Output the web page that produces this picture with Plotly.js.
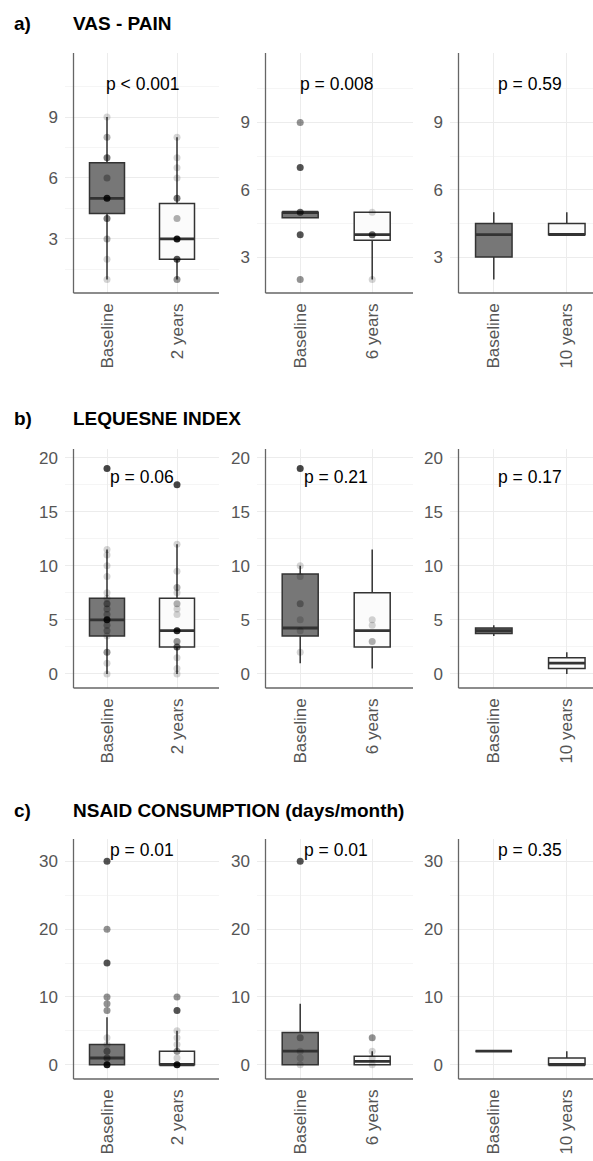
<!DOCTYPE html>
<html><head><meta charset="utf-8">
<script src="https://cdn.plot.ly/plotly-3.0.1.min.js"></script>
<style>html,body{margin:0;padding:0;background:#fff;}#chart{width:593px;height:1161px;}</style>
</head><body><div id="chart"></div>
<script>
// ---------------- DATA ----------------
const rowLetters = ['a)', 'b)', 'c)'];
const rowTitles = ['VAS - PAIN', 'LEQUESNE INDEX', 'NSAID CONSUMPTION (days/month)'];
const baselineLabel = 'Baseline';
const followUpLabels = ['2 years', '6 years', '10 years'];
const pValues = [
  ['p < 0.001', 'p = 0.008', 'p = 0.59'],
  ['p = 0.06', 'p = 0.21', 'p = 0.17'],
  ['p = 0.01', 'p = 0.01', 'p = 0.35']
];

// box statistics per panel: [lowerfence, q1, median, q3, upperfence]
const vasBaselineBox = [[1, 4.25, 5, 6.75, 9], [4.75, 4.75, 5, 5, 5], [2, 3, 4, 4.5, 5]];
const vasFollowBox   = [[1, 2, 3, 4.75, 8], [2, 3.75, 4, 5, 5], [4, 4, 4, 4.5, 5]];
const lqBaselineBox  = [[0, 3.5, 5, 7, 11.5], [1, 3.5, 4.25, 9.25, 10], [3.5, 3.75, 4, 4.25, 4.5]];
const lqFollowBox    = [[0, 2.5, 4, 7, 12], [0.5, 2.5, 4, 7.5, 11.5], [0, 0.5, 1, 1.5, 2]];
const nsBaselineBox  = [[0, 0, 1, 3, 7], [0, 0, 2, 4.75, 9], [2, 2, 2, 2, 2]];
const nsFollowBox    = [[0, 0, 0, 2, 5], [0, 0, 0.5, 1.25, 2], [0, 0, 0, 1, 2]];

// observed values (distinct) and number of patients at each value
const vasBaselineVals = [[1, 2, 3, 4, 5, 6, 7, 8, 9], [2, 4, 5, 7, 9], []];
const vasBaselineN    = [[1, 1, 2, 4, 10, 2, 4, 2, 1], [3, 6, 5, 6, 3], []];
const vasFollowVals   = [[1, 2, 3, 4, 5, 6, 6.5, 7, 8], [2, 4, 5], []];
const vasFollowN      = [[3, 6, 12, 2, 4, 1, 1, 1, 1], [1, 5, 1], []];

const lqBaselineVals = [[0, 1, 2, 3.5, 4, 4.5, 5, 5.5, 6, 6.5, 7, 7.5, 9, 10, 11, 11.5, 19], [2, 4, 5, 6.5, 9, 10, 19], []];
const lqBaselineN    = [[1, 1, 3, 1, 2, 2, 10, 2, 2, 3, 1, 1, 1, 1, 1, 1, 7], [1, 1, 1, 2, 1, 1, 7], []];
const lqFollowVals   = [[0, 0.5, 1.5, 2.5, 3, 4, 5.5, 6, 6.5, 7.5, 8, 9.5, 12, 17.5], [3, 4.5, 5], []];
const lqFollowN      = [[1, 1, 1, 5, 3, 10, 1, 1, 2, 1, 2, 1, 1, 7], [2, 1, 1], []];

const nsBaselineVals = [[0, 1, 2, 3, 4, 8, 9, 10, 15, 20, 30], [0, 1, 2, 4, 30], []];
const nsBaselineN    = [[12, 3, 3, 1, 1, 3, 3, 3, 6, 3, 6], [1, 1, 1, 2, 6], []];
const nsFollowVals   = [[0, 1, 2, 3, 4, 5, 8, 10], [0, 1, 2, 4], []];
const nsFollowN      = [[12, 1, 3, 1, 1, 1, 6, 3], [1, 1, 1, 3], []];

// y tick labels per row
const rowTicks = [[3, 6, 9], [0, 5, 10, 15, 20], [0, 10, 20, 30]];
const rowMinorTicks = [
  [[1.5, 4.5, 7.5, 10.5], [4.5, 7.5, 10.5], [4.5, 7.5, 10.5]],
  [[2.5, 7.5, 12.5, 17.5], [2.5, 7.5, 12.5, 17.5], [2.5, 7.5, 12.5, 17.5]],
  [[5, 15, 25], [5, 15, 25], [5, 15, 25]]
];

// ---------------- LAYOUT / STYLE ----------------
const W = 593, H = 1161;
const FONT = 'Liberation Sans, Arial, Helvetica, sans-serif';
const rowsPx = [[53, 293], [449, 688], [839, 1079]];
const colsPx = [[65, 219], [257, 413], [450, 593]];
const colUnitPx = [70, 72, 73];
const axisOffsetPx = 8.5;
const yRanges = [
  [[0.34, 12.15], [1.4, 12.1], [1.4, 12.1]],
  [[-1.3, 20.8], [-1.3, 20.8], [-1.3, 20.8]],
  [[-2.1, 33.3], [-2.1, 33.3], [-2.1, 33.3]]
];
const titleCenterY = [23.5, 418.5, 810];
const pLabelFrac = [0.872, 0.883, 0.954];
const BASE_FILL = '#777777', FOLLOW_FILL = '#fbfbfb', LINE = '#333333';
const POINT_ALPHA = 0.17;
const BOX_HALF = 0.25;

const boxes = [[vasBaselineBox, vasFollowBox], [lqBaselineBox, lqFollowBox], [nsBaselineBox, nsFollowBox]];
const pts = [
  [[vasBaselineVals, vasBaselineN], [vasFollowVals, vasFollowN]],
  [[lqBaselineVals, lqBaselineN], [lqFollowVals, lqFollowN]],
  [[nsBaselineVals, nsBaselineN], [nsFollowVals, nsFollowN]]
];

const traces = [];
const layout = {
  width: W, height: H, margin: {l: 0, r: 0, t: 0, b: 0},
  paper_bgcolor: '#ffffff', plot_bgcolor: 'rgba(0,0,0,0)',
  showlegend: false, hovermode: false,
  font: {family: FONT, color: '#000'},
  annotations: [], shapes: []
};

for (let r = 0; r < 3; r++) {
  layout.annotations.push({xref: 'paper', yref: 'paper', x: 12 / W, y: 1 - titleCenterY[r] / H,
    xanchor: 'left', yanchor: 'middle', showarrow: false, text: '<b>' + rowLetters[r] + '</b>',
    font: {family: FONT, size: 19, color: '#000'}});
  layout.annotations.push({xref: 'paper', yref: 'paper', x: 71 / W, y: 1 - titleCenterY[r] / H,
    xanchor: 'left', yanchor: 'middle', showarrow: false, text: '<b>' + rowTitles[r] + '</b>',
    font: {family: FONT, size: 19, color: '#000'}});
  for (let c = 0; c < 3; c++) {
    const k = r * 3 + c + 1;
    const xn = 'x' + (k > 1 ? k : ''), yn = 'y' + (k > 1 ? k : '');
    const xa = 'xaxis' + (k > 1 ? k : ''), ya = 'yaxis' + (k > 1 ? k : '');
    const [L, R] = colsPx[c];
    const [T, B] = rowsPx[r];
    const xr = [0.4, 0.4 + (R - L) / colUnitPx[c]];
    const axisX = 0.4 + axisOffsetPx / colUnitPx[c];
    layout[xa] = {
      domain: [L / W, R / W], range: xr, anchor: yn, fixedrange: true,
      tickmode: 'array', tickvals: [1, 2], ticktext: [baselineLabel, followUpLabels[c]],
      tickangle: -90, ticks: '', showline: false, zeroline: false,
      showgrid: true, gridcolor: '#ececec', gridwidth: 1,
      tickfont: {family: FONT, size: 17, color: '#555555'}, ticklabelstandoff: 6
    };
    layout[ya] = {
      domain: [1 - B / H, 1 - T / H], range: yRanges[r][c], anchor: xn, fixedrange: true,
      tickmode: 'array', tickvals: rowTicks[r], ticks: '', showline: false, zeroline: false,
      showgrid: true, gridcolor: '#ececec', gridwidth: 1,
      minor: {tickmode: 'array', tickvals: rowMinorTicks[r][c], showgrid: true, gridcolor: '#f5f5f5', gridwidth: 1, ticks: ''},
      tickfont: {family: FONT, size: 17, color: '#555555'}, ticklabelstandoff: 6
    };
    // boxes
    [0, 1].forEach(g => {
      const s = boxes[r][g][c];
      traces.push({
        type: 'box', xaxis: xn, yaxis: yn, x: [g + 1],
        lowerfence: [s[0]], q1: [s[1]], median: [s[2]], q3: [s[3]], upperfence: [s[4]],
        width: 2 * BOX_HALF, boxpoints: false, whiskerwidth: 0,
        fillcolor: g === 0 ? BASE_FILL : FOLLOW_FILL,
        line: {color: LINE, width: 1.5}, hoverinfo: 'skip'
      });
    });
    // thicker median lines (as in ggplot)
    [0, 1].forEach(g => {
      const s = boxes[r][g][c];
      traces.push({
        type: 'scatter', mode: 'lines', xaxis: xn, yaxis: yn,
        x: [g + 1 - BOX_HALF, g + 1 + BOX_HALF], y: [s[2], s[2]],
        line: {color: LINE, width: 2.8}, hoverinfo: 'skip'
      });
    });
    // points
    [0, 1].forEach(g => {
      const vals = pts[r][g][0][c], ns = pts[r][g][1][c];
      if (!vals.length) return;
      traces.push({
        type: 'scatter', mode: 'markers', xaxis: xn, yaxis: yn,
        x: vals.map(() => g + 1), y: vals,
        marker: {size: 7, color: '#000', opacity: ns.map(n => 1 - Math.pow(1 - POINT_ALPHA, n)), line: {width: 0}},
        hoverinfo: 'skip', cliponaxis: false
      });
    });
    // p label
    layout.annotations.push({xref: xn, yref: yn + ' domain', x: 1.5, y: pLabelFrac[r],
      xanchor: 'center', yanchor: 'middle', showarrow: false, text: pValues[r][c],
      font: {family: FONT, size: 17.5, color: '#000'}});
    // axis lines
    layout.shapes.push({type: 'line', xref: xn, yref: yn + ' domain', x0: axisX, x1: axisX, y0: 0, y1: 1,
      line: {color: '#666', width: 1.3}});
    layout.shapes.push({type: 'line', xref: xn, yref: yn + ' domain', x0: axisX, x1: xr[1], y0: 0, y1: 0,
      line: {color: '#666', width: 1.3}});
  }
}

Plotly.newPlot('chart', traces, layout, {staticPlot: true, displayModeBar: false});
</script>
</body></html>
